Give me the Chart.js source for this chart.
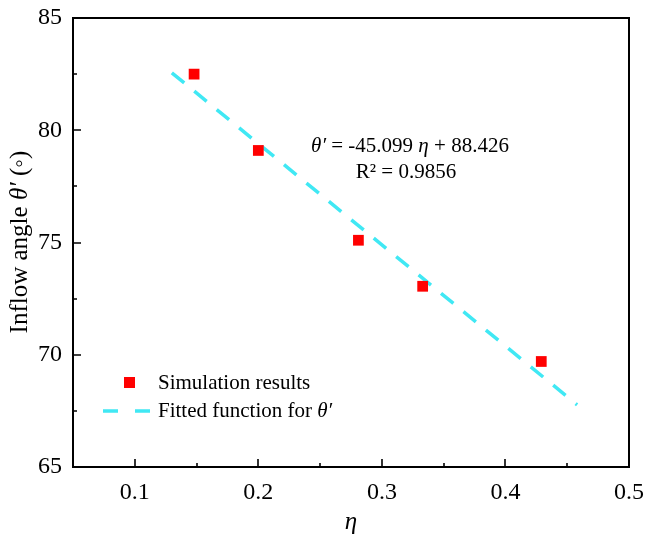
<!DOCTYPE html>
<html><head><meta charset="utf-8">
<script src="https://cdn.jsdelivr.net/npm/chart.js@4/dist/chart.umd.min.js"></script>
<style>html,body{margin:0;padding:0;background:#fff;} canvas{display:block;}</style>
</head><body>
<canvas id="c" width="646" height="538"></canvas>
<script>
// ---- data ----
const etaValues   = [0.148, 0.200, 0.281, 0.333, 0.429];
const thetaValues = [82.5, 79.1, 75.1, 73.05, 69.7];
const fitEta      = [0.130, 0.458];
const fitTheta    = [82.56, 67.77];
const xTicks = [0.1, 0.2, 0.3, 0.4, 0.5];
const xMinor = [0.15, 0.25, 0.35, 0.45];
const yTicks = [65, 70, 75, 80, 85];
const yMinor = [67.5, 72.5, 77.5, 82.5];
const seriesNames = ['Simulation results', 'Fitted function for '];
const eqLine1 = [['θ′', true], [' = -45.099 ', false], ['η', true], [' + 88.426', false]];
const eqLine2 = [['R² = 0.9856', false]];
const yTitle = [['Inflow angle ', false], ['θ′', true], [' (◦)', false]];
const xTitle = [['η', true]];

const FONT = '"Liberation Serif", "Times New Roman", serif';
const RED = '#ff0000';
const CYAN = '#40e8f4';

function fontStr(size, italic){ return (italic ? 'italic ' : '') + size + 'px ' + FONT; }
function runsWidth(ctx, runs, size){
  let w = 0;
  for (const [t, it] of runs){ ctx.font = fontStr(size, it); w += ctx.measureText(t).width; }
  return w;
}
function drawRuns(ctx, runs, size, x, y, align){
  const w = runsWidth(ctx, runs, size);
  let cx = align === 'center' ? x - w/2 : x;
  ctx.textBaseline = 'middle';
  ctx.textAlign = 'left';
  for (const [t, it] of runs){
    ctx.font = fontStr(size, it);
    ctx.fillText(t, cx, y);
    cx += ctx.measureText(t).width;
  }
}

const decor = {
  id: 'decor',
  afterDraw(chart){
    const ctx = chart.ctx;
    const a = chart.chartArea;
    const xs = chart.scales.x, ys = chart.scales.y;
    ctx.save();
    ctx.strokeStyle = '#000';
    ctx.fillStyle = '#000';
    // frame
    ctx.lineWidth = 2;
    ctx.strokeRect(a.left, a.top, a.right - a.left, a.bottom - a.top);
    // ticks (inward)
    ctx.lineWidth = 1.6;
    ctx.beginPath();
    for (const v of xTicks){ const px = Math.round(xs.getPixelForValue(v)); ctx.moveTo(px, a.bottom); ctx.lineTo(px, a.bottom - 8); }
    for (const v of xMinor){ const px = Math.round(xs.getPixelForValue(v)); ctx.moveTo(px, a.bottom); ctx.lineTo(px, a.bottom - 4); }
    for (const v of yTicks){ const py = Math.round(ys.getPixelForValue(v)); ctx.moveTo(a.left, py); ctx.lineTo(a.left + 8, py); }
    for (const v of yMinor){ const py = Math.round(ys.getPixelForValue(v)); ctx.moveTo(a.left, py); ctx.lineTo(a.left + 4, py); }
    ctx.stroke();

    // axis titles
    drawRuns(ctx, xTitle, 25, (a.left + a.right)/2, 522, 'center');
    ctx.save();
    ctx.translate(20, 242);
    ctx.rotate(-Math.PI/2);
    drawRuns(ctx, yTitle, 25, 0, 0, 'center');
    ctx.restore();

    // equation
    drawRuns(ctx, eqLine1, 21, 410, 146, 'center');
    drawRuns(ctx, eqLine2, 21, 406, 172, 'center');

    // legend
    const ds0 = chart.data.datasets[0], ds1 = chart.data.datasets[1];
    ctx.fillStyle = ds0.backgroundColor;
    ctx.fillRect(124, 377, 11, 11);
    ctx.strokeStyle = ds1.borderColor;
    ctx.lineWidth = ds1.borderWidth;
    ctx.setLineDash([15, 17]);
    ctx.beginPath(); ctx.moveTo(103, 411); ctx.lineTo(150, 411); ctx.stroke();
    ctx.setLineDash([]);
    ctx.fillStyle = '#000';
    drawRuns(ctx, [[seriesNames[0], false]], 21, 158, 383, 'left');
    drawRuns(ctx, [[seriesNames[1], false], ['θ′', true]], 21, 158, 411, 'left');
    ctx.restore();
  }
};

new Chart(document.getElementById('c'), {
  type: 'scatter',
  data: {
    datasets: [
      {
        label: seriesNames[0],
        data: etaValues.map((x, i) => ({x, y: thetaValues[i]})),
        pointStyle: 'rect', pointRadius: 7.6, pointHoverRadius: 7.6,
        backgroundColor: RED, borderColor: RED, borderWidth: 0, order: 0
      },
      {
        type: 'line',
        label: seriesNames[1] + 'θ′',
        data: fitEta.map((x, i) => ({x, y: fitTheta[i]})),
        borderColor: CYAN, backgroundColor: CYAN, borderWidth: 3.5,
        borderDash: [16, 13], pointRadius: 0, fill: false, showLine: true, order: 1
      }
    ]
  },
  options: {
    responsive: false, animation: false, devicePixelRatio: 1,
    layout: { padding: { left: 0, top: 18, right: 17, bottom: 0 } },
    plugins: { legend: { display: false }, tooltip: { enabled: false } },
    scales: {
      x: {
        type: 'linear', min: 0.05, max: 0.5,
        grid: { display: false, drawTicks: false }, border: { display: false },
        afterBuildTicks: s => { s.ticks = xTicks.map(v => ({value: v})); },
        afterFit: s => { s.height = 71; s.paddingLeft = 0; s.paddingRight = 0; },
        ticks: { autoSkip: false, maxRotation: 0, padding: 11, color: '#000',
          font: { family: FONT, size: 24 }, callback: v => String(v) }
      },
      y: {
        type: 'linear', min: 65, max: 85,
        grid: { display: false, drawTicks: false }, border: { display: false },
        afterBuildTicks: s => { s.ticks = yTicks.map(v => ({value: v})); },
        afterFit: s => { s.width = 73; s.paddingTop = 0; s.paddingBottom = 0; },
        ticks: { autoSkip: false, padding: 11, color: '#000',
          font: { family: FONT, size: 24 }, callback: v => String(v) }
      }
    }
  },
  plugins: [decor]
});
</script>
</body></html>
